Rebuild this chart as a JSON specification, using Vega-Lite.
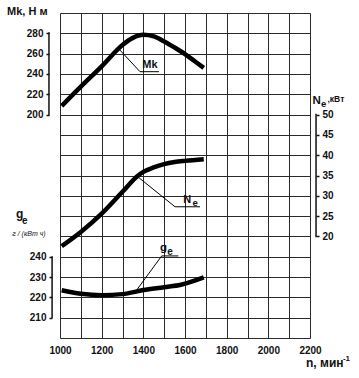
{
  "$schema": "https://vega.github.io/schema/vega-lite/v6.json",
  "width": 250,
  "height": 325,
  "autosize": {"type": "none"},
  "padding": {"left": 60, "top": 13, "right": 49, "bottom": 40},
  "background": "white",
  "config": {
    "view": {"stroke": null},
    "font": "Liberation Sans",
    "axis": {"labelFont": "Liberation Sans", "labelFontSize": 10, "labelFontWeight": "bold", "labelColor": "#111", "tickColor": "#111", "tickWidth": 1.5, "tickSize": 3, "gridColor": "#2a2a2a", "gridWidth": 1, "gridOpacity": 1, "domain": false},
    "text": {"font": "Liberation Sans", "fontWeight": "bold", "color": "#111", "align": "left", "baseline": "alphabetic"}
  },
  "encoding": {
    "x": {"field": "n", "type": "quantitative", "scale": {"domain": [1000, 2200], "nice": false, "zero": false},
      "axis": {"values": [1000, 1100, 1200, 1300, 1400, 1500, 1600, 1700, 1800, 1900, 2000, 2100, 2200], "grid": true, "ticks": false, "labelExpr": "datum.value % 200 === 0 ? datum.label : ''", "format": "d", "labelPadding": 7, "labelFlush": false, "labelOverlap": false, "title": null}}
  },
  "layer": [
    {
      "encoding": {"y": {"field": "mk", "type": "quantitative", "scale": {"domain": [-20, 300], "nice": false, "zero": false},
        "axis": {"orient": "left", "values": [-20, 0, 20, 40, 60, 80, 100, 120, 140, 160, 180, 200, 220, 240, 260, 280, 300], "grid": true, "labels": false, "ticks": false, "title": null}}},
      "layer": [
        {"data": {"values": [
          {"n": 1008, "mk": 208.5}, {"n": 1100, "mk": 227.5}, {"n": 1200, "mk": 247.5}, {"n": 1300, "mk": 268.5},
          {"n": 1350, "mk": 275.5}, {"n": 1400, "mk": 278.5}, {"n": 1450, "mk": 277}, {"n": 1500, "mk": 272},
          {"n": 1550, "mk": 266}, {"n": 1600, "mk": 259.5}, {"n": 1650, "mk": 252}, {"n": 1690, "mk": 246}]},
         "mark": {"type": "line", "color": "#000", "strokeWidth": 4.5, "interpolate": "monotone"}},
        {"data": {"values": [{"n": 1280, "mk": 265.2}, {"n": 1384, "mk": 242.2}, {"n": 1475, "mk": 242.2}]},
         "mark": {"type": "line", "color": "#000", "strokeWidth": 1}},
        {"data": {"values": [{"n": 1395, "mk": 245.5, "t": "Mk"}]},
         "mark": {"type": "text", "fontSize": 11}, "encoding": {"text": {"field": "t"}}}
      ]
    },
    {
      "encoding": {"y": {"field": "mk", "type": "quantitative", "scale": {"domain": [-20, 300], "nice": false, "zero": false},
        "axis": {"orient": "left", "offset": 11, "values": [200, 220, 240, 260, 280], "grid": false, "title": null, "labelPadding": 3}}},
      "layer": [
        {"data": {"values": [{"n": 947, "mk": 199, "mk2": 281}]},
         "mark": {"type": "rule", "color": "#111", "strokeWidth": 1.5}, "encoding": {"y2": {"field": "mk2"}}},
        {"data": {"values": [{"n": 746, "mk": 298, "t": "Mk, Н м"}]},
         "mark": {"type": "text", "fontSize": 11}, "encoding": {"text": {"field": "t"}}}
      ]
    },
    {
      "encoding": {"y": {"field": "ne", "type": "quantitative", "scale": {"domain": [-5, 75], "nice": false, "zero": false},
        "axis": {"orient": "right", "offset": 6, "values": [20, 25, 30, 35, 40, 45, 50], "grid": false, "title": null, "labelPadding": 3}}},
      "layer": [
        {"data": {"values": [
          {"n": 1008, "ne": 17.6}, {"n": 1100, "ne": 21.1}, {"n": 1200, "ne": 25.6}, {"n": 1300, "ne": 31},
          {"n": 1375, "ne": 35}, {"n": 1400, "ne": 35.9}, {"n": 1450, "ne": 37}, {"n": 1500, "ne": 37.8},
          {"n": 1550, "ne": 38.3}, {"n": 1600, "ne": 38.6}, {"n": 1690, "ne": 39}]},
         "mark": {"type": "line", "color": "#000", "strokeWidth": 4.5, "interpolate": "monotone"}},
        {"data": {"values": [{"n": 1368, "ne": 34.9}, {"n": 1552, "ne": 27.3}, {"n": 1672, "ne": 27.3}]},
         "mark": {"type": "line", "color": "#000", "strokeWidth": 1}},
        {"data": {"values": [{"n": 2229, "ne": 19.8, "ne2": 50.2}]},
         "mark": {"type": "rule", "color": "#111", "strokeWidth": 1.5}, "encoding": {"y2": {"field": "ne2"}}},
        {"data": {"values": [{"n": 1592, "ne": 28.2, "t": "N"}]},
         "mark": {"type": "text", "fontSize": 11}, "encoding": {"text": {"field": "t"}}},
        {"data": {"values": [{"n": 2212, "ne": 52.7, "t": "N"}]},
         "mark": {"type": "text", "fontSize": 11.5}, "encoding": {"text": {"field": "t"}}},
        {"data": {"values": [{"n": 1636, "ne": 27.6, "t": "e"}, {"n": 2253, "ne": 51.9, "t": "e"}]},
         "mark": {"type": "text", "fontSize": 9.5}, "encoding": {"text": {"field": "t"}}},
        {"data": {"values": [{"n": 2284, "ne": 53.0, "t": ",кВт"}]},
         "mark": {"type": "text", "fontSize": 8.5}, "encoding": {"text": {"field": "t"}}}
      ]
    },
    {
      "encoding": {"y": {"field": "ge", "type": "quantitative", "scale": {"domain": [200, 360], "nice": false, "zero": false},
        "axis": {"orient": "left", "offset": 8, "values": [210, 220, 230, 240], "grid": false, "title": null, "labelPadding": 3}}},
      "layer": [
        {"data": {"values": [
          {"n": 1008, "ge": 223.5}, {"n": 1100, "ge": 221.8}, {"n": 1200, "ge": 221.1}, {"n": 1300, "ge": 221.6},
          {"n": 1400, "ge": 223.6}, {"n": 1500, "ge": 225}, {"n": 1580, "ge": 226.2}, {"n": 1690, "ge": 229.8}]},
         "mark": {"type": "line", "color": "#000", "strokeWidth": 4.5, "interpolate": "monotone"}},
        {"data": {"values": [{"n": 1368, "ge": 223.6}, {"n": 1488, "ge": 240.4}, {"n": 1568, "ge": 240.4}]},
         "mark": {"type": "line", "color": "#000", "strokeWidth": 1}},
        {"data": {"values": [{"n": 962, "ge": 209.8, "ge2": 240.2}]},
         "mark": {"type": "rule", "color": "#111", "strokeWidth": 1.5}, "encoding": {"y2": {"field": "ge2"}}},
        {"data": {"values": [{"n": 1480, "ge": 243.0, "t": "g"}]},
         "mark": {"type": "text", "fontSize": 11.5}, "encoding": {"text": {"field": "t"}}},
        {"data": {"values": [{"n": 789, "ge": 259.1, "t": "g"}, {"n": 2181, "ge": 185.6, "t": "n, мин"}]},
         "mark": {"type": "text", "fontSize": 12}, "encoding": {"text": {"field": "t"}}},
        {"data": {"values": [{"n": 1515, "ge": 240.9, "t": "e"}, {"n": 818, "ge": 256.1, "t": "e"}]},
         "mark": {"type": "text", "fontSize": 10}, "encoding": {"text": {"field": "t"}}},
        {"data": {"values": [{"n": 2358, "ge": 188.8, "t": "-1"}]},
         "mark": {"type": "text", "fontSize": 8}, "encoding": {"text": {"field": "t"}}},
        {"data": {"values": [{"n": 851, "ge": 250.2, "t": "г / (кВт ч)"}]},
         "mark": {"type": "text", "fontSize": 7, "fontWeight": "normal", "fontStyle": "italic", "align": "center"}, "encoding": {"text": {"field": "t"}}}
      ]
    }
  ],
  "resolve": {"scale": {"y": "independent"}, "axis": {"y": "independent"}}
}
